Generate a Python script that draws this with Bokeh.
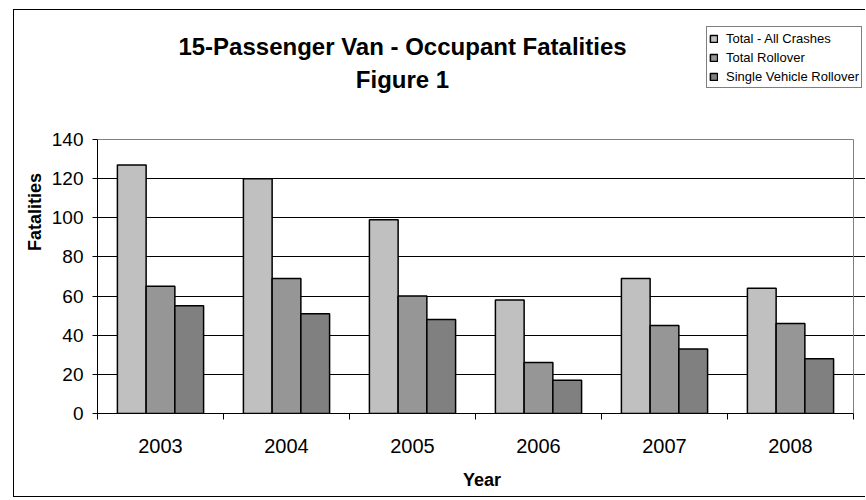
from bokeh.plotting import figure
from bokeh.models import Range1d, FixedTicker, Legend, LegendItem, Label
from bokeh.embed import file_html
from bokeh.resources import INLINE

years = ["2003", "2004", "2005", "2006", "2007", "2008"]
total_all = [127, 120, 99, 58, 69, 64]
total_rollover = [65, 69, 60, 26, 45, 46]
single_rollover = [55, 51, 48, 17, 33, 28]
series_names = ["Total - All Crashes", "Total Rollover", "Single Vehicle Rollover"]
series_colors = ["#C0C0C0", "#969696", "#808080"]
y_ticks = [0, 20, 40, 60, 80, 100, 120, 140]
Y_MAX = 140

FONT = "Liberation Sans"

# page layout (pixels in the page)
ORIGIN_X, ORIGIN_Y = 14, 10          # canvas origin after css margin + border
PAGE_R, PAGE_B = 866, 498
PLOT_L, PLOT_R, PLOT_T, PLOT_B = 97, 853, 139, 413
W = PAGE_R - ORIGIN_X
H = PAGE_B - ORIGIN_Y

n = len(years)
ppx = (PLOT_R - PLOT_L) / n          # pixels per x unit
ppy = (PLOT_B - PLOT_T) / Y_MAX      # pixels per y unit
x_end = (PAGE_R - PLOT_L) / ppx
y_end = (PLOT_B - ORIGIN_Y) / ppy

p = figure(width=W, height=H, output_backend="svg", toolbar_location=None,
           x_range=Range1d(0, x_end), y_range=Range1d(0, y_end),
           min_border_left=PLOT_L - ORIGIN_X, min_border_top=0, min_border_right=0,
           min_border_bottom=H - (PLOT_B - ORIGIN_Y))
p.margin = (ORIGIN_Y - 1, 0, 0, ORIGIN_X - 1)
p.styles = {"border-left": "1px solid black", "border-top": "1px solid black",
            "border-bottom": "1px solid black"}
p.background_fill_color = "white"
p.border_fill_color = "white"
p.outline_line_color = None

# plot-area border (top and right, gray)
p.segment(x0=[0, n], y0=[Y_MAX, 0], x1=[n, n], y1=[Y_MAX, Y_MAX],
          line_color="#808080", line_width=1)

bw = 0.228
centers = [i + 0.5 for i in range(n)]
renderers = []
for k, (vals, col) in enumerate(zip([total_all, total_rollover, single_rollover], series_colors)):
    xs = [c + (k - 1) * bw for c in centers]
    r = p.vbar(x=xs, top=vals, width=bw, bottom=0, fill_color=col,
               line_color="black", line_width=1.5)
    renderers.append(r)

# axes
p.xaxis.bounds = (0, n)
p.xaxis.ticker = FixedTicker(ticks=centers, minor_ticks=list(range(n + 1)))
p.xaxis.major_label_overrides = {c: y for c, y in zip(centers, years)}
p.xaxis.major_tick_out = 0
p.xaxis.major_tick_in = 0
p.xaxis.minor_tick_out = 6
p.xaxis.minor_tick_in = 0
p.xaxis.minor_tick_line_color = "black"
p.xaxis.axis_line_color = "black"
p.xaxis.major_label_standoff = 19
p.xaxis.major_label_text_font = FONT
p.xaxis.major_label_text_font_size = "20px"
p.xaxis.major_label_text_color = "black"
p.xaxis.axis_label = "Year"
p.xaxis.axis_label_text_font = FONT
p.xaxis.axis_label_text_font_style = "bold"
p.xaxis.axis_label_text_font_size = "18px"
p.xaxis.axis_label_text_color = "black"
p.xaxis.axis_label_standoff = 14

p.yaxis.bounds = (0, Y_MAX)
p.yaxis.ticker = FixedTicker(ticks=y_ticks)
p.yaxis.major_tick_out = 5
p.yaxis.major_tick_in = 0
p.yaxis.minor_tick_line_color = None
p.yaxis.axis_line_color = "black"
p.yaxis.major_tick_line_color = "black"
p.yaxis.major_label_standoff = 9
p.yaxis.major_label_text_font = FONT
p.yaxis.major_label_text_font_size = "19px"
p.yaxis.major_label_text_color = "black"
p.yaxis.axis_label = "Fatalities"
p.yaxis.axis_label_text_font = FONT
p.yaxis.axis_label_text_font_style = "bold"
p.yaxis.axis_label_text_font_size = "18px"
p.yaxis.axis_label_text_color = "black"
p.yaxis.axis_label_standoff = 4

p.xgrid.grid_line_color = None
p.ygrid.ticker = FixedTicker(ticks=y_ticks[1:-1])
p.ygrid.bounds = (0, n)
p.ygrid.grid_line_color = "black"
p.ygrid.grid_line_width = 1

# legend (inside the enlarged frame, above the plot area)
legend = Legend(items=[LegendItem(label=s, renderers=[r]) for s, r in zip(series_names, renderers)],
                location=(706 - PLOT_L, PLOT_B - 88), orientation="vertical")
legend.border_line_color = "black"
legend.border_line_width = 1
legend.background_fill_color = "white"
legend.background_fill_alpha = 1
legend.padding = 2
legend.spacing = 1
legend.margin = 0
legend.glyph_width = 9
legend.glyph_height = 9
legend.label_height = 18
legend.label_standoff = 8
legend.label_text_font = FONT
legend.label_text_font_size = "13px"
legend.label_text_color = "black"
p.add_layout(legend, "center")

# title (two centered lines)
title_x = (402 - PLOT_L) / ppx
t1 = Label(x=title_x, y=(PLOT_B - 46) / ppy,
           text="15-Passenger Van - Occupant Fatalities", text_align="center",
           text_baseline="middle", text_font=FONT, text_font_style="bold",
           text_font_size="24px", text_color="black")
t2 = Label(x=title_x, y=(PLOT_B - 79) / ppy,
           text="Figure 1", text_align="center", text_baseline="middle",
           text_font=FONT, text_font_style="bold", text_font_size="24px",
           text_color="black")
p.add_layout(t1)
p.add_layout(t2)

open("out.html", "w").write(file_html(p, INLINE))
